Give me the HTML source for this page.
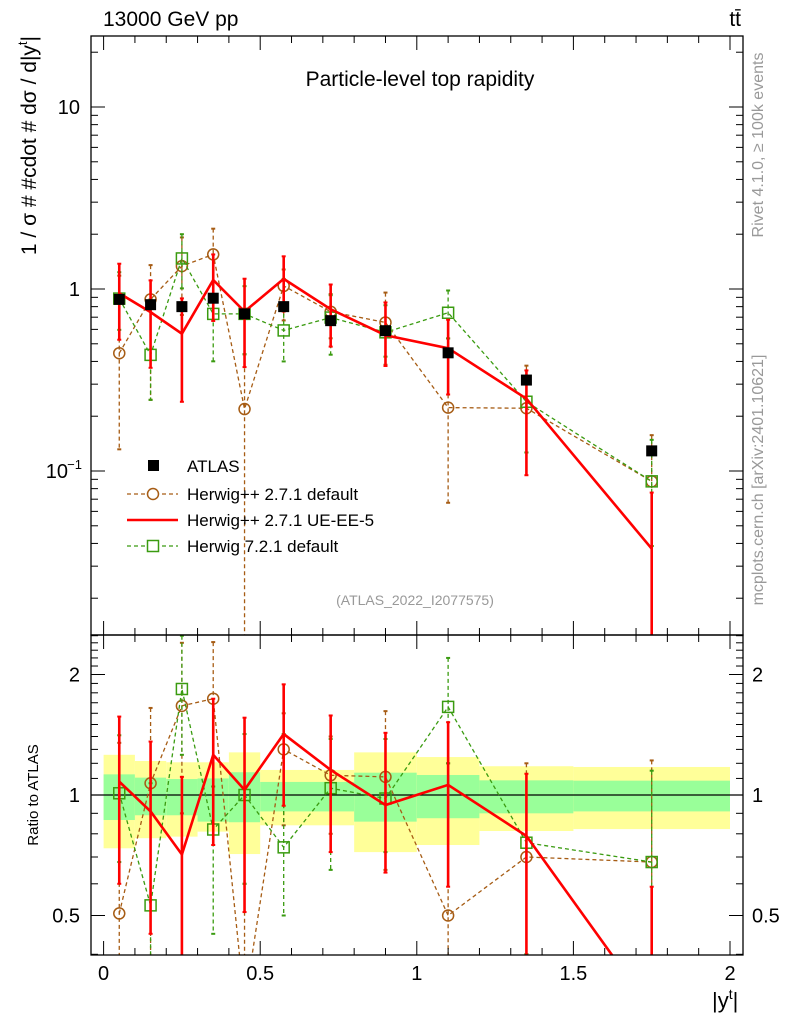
<!DOCTYPE html>
<html><head><meta charset="utf-8"><style>
html,body{margin:0;padding:0;background:#fff;overflow:hidden;width:786px;height:1024px}
svg{display:block;font-family:"Liberation Sans",sans-serif}
</style></head><body>
<svg id="c" width="786" height="1024" xmlns="http://www.w3.org/2000/svg"></svg>
<script>
const xs=[0.05,0.15,0.25,0.35,0.45,0.575,0.725,0.9,1.1,1.35,1.75];
const atlas=[0.877,0.82,0.80,0.89,0.73,0.80,0.67,0.59,0.446,0.316,0.129];
const rH2=[0.506,1.07,1.67,1.74,0.30,1.30,1.12,1.11,0.50,0.70,0.68];
const rH2Up=[1.35,1.65,2.4,2.41,0.6,1.6,1.4,1.62,1.2,1.2,1.22];
const rH2Dn=[0.15,0.3,0.9,1.0,0.01,0.84,0.8,0.65,0.15,0.4,0.3];
const rUE=[1.08,0.91,0.71,1.26,1.03,1.42,1.155,0.944,1.06,0.79,0.29];
const rUEUp=[1.57,1.36,1.11,1.74,1.56,1.89,1.58,1.43,1.52,1.13,0.59];
const rUEDn=[0.6,0.45,0.3,0.75,0.51,0.94,0.72,0.64,0.59,0.3,0.05];
const rH7=[1.01,0.53,1.84,0.82,1.0,0.74,1.04,0.98,1.66,0.76,0.68];
const rH7Up=[1.41,1.07,2.5,1.05,1.42,1.42,1.38,1.38,2.2,1.0,1.15];
const rH7Dn=[0.68,0.3,1.26,0.45,0.6,0.5,0.65,0.72,1.2,0.4,0.3];
const binEdges=[0,0.1,0.2,0.3,0.4,0.5,0.8,1.0,1.2,1.5,2.0];
const yelTop=[1.26,1.216,1.207,1.207,1.278,1.155,1.278,1.244,1.18,1.175];
const yelBot=[0.736,0.78,0.787,0.81,0.712,0.84,0.72,0.75,0.813,0.822];
const grnTop=[1.126,1.105,1.096,1.10,1.14,1.078,1.137,1.122,1.088,1.086];
const grnBot=[0.866,0.89,0.89,0.858,0.855,0.91,0.858,0.875,0.90,0.91];

const NS="http://www.w3.org/2000/svg";
const svg=document.getElementById('c');
const X=v=>103.6+v*313.2;
const YM=v=>289-Math.log10(v)*182;
const YR=v=>795-Math.log2(v)*120.5;
const L=91,R=743,T1=36,B1=635,B2=955;
function mk(tag,attrs,parent){const e=document.createElementNS(NS,tag);for(const k in attrs)e.setAttribute(k,attrs[k]);(parent||svg).appendChild(e);return e;}
function txt(s,attrs,parent){const e=mk('text',attrs,parent);e.textContent=s;return e;}
const defs=mk('defs',{});
const cp1=mk('clipPath',{id:'cm'},defs);mk('rect',{x:L,y:T1,width:R-L,height:B1-T1},cp1);
const cp2=mk('clipPath',{id:'cr'},defs);mk('rect',{x:L,y:B1,width:R-L,height:B2-B1},cp2);
const gm=mk('g',{'clip-path':'url(#cm)'});


const gr=mk('g',{'clip-path':'url(#cr)'});



for(let i=0;i<binEdges.length-1;i++){
  const x0=X(binEdges[i]),x1=X(binEdges[i+1]);
  const y=mk('rect',{x:x0,y:YR(yelTop[i]),width:x1-x0,height:YR(yelBot[i])-YR(yelTop[i]),fill:'#ffff99'},gr);
  
  
  const g=mk('rect',{x:x0,y:YR(grnTop[i]),width:x1-x0,height:YR(grnBot[i])-YR(grnTop[i]),fill:'#99ff99'},gr);
  
  
}
mk('line',{x1:L,x2:R,y1:YR(1),y2:YR(1),stroke:'#000','stroke-width':1.3},gr);

const series=[
 {name:'herwigpp-default',r:rH2,up:rH2Up,dn:rH2Dn,col:'#a65c14',dash:'4,3',w:1.3,m:'circle'},
 {name:'herwig7-default',r:rH7,up:rH7Up,dn:rH7Dn,col:'#3a9b10',dash:'4,3',w:1.3,m:'square'},
 {name:'herwigpp-ue-ee-5',r:rUE,up:rUEUp,dn:rUEDn,col:'#ff0000',dash:'',w:2.6,m:'none'}
];
function drawSeries(s,g,Y,ratio){
  const vals=s.r.map((r,i)=>ratio?r:r*atlas[i]);
  const up=s.up.map((r,i)=>ratio?r:r*atlas[i]);
  const dn=s.dn.map((r,i)=>ratio?r:r*atlas[i]);
  for(let i=0;i<xs.length;i++){
    const x=X(xs[i]);const eb=mk('line',{x1:x,x2:x,y1:Y(up[i]),y2:Y(Math.max(dn[i],1e-4)),stroke:s.col,'stroke-width':s.m==='none'?2.6:1.3,'stroke-dasharray':s.dash},g);
    
    
    for(const yv of [up[i],dn[i]]){mk('line',{x1:x-2,x2:x+2,y1:Y(Math.max(yv,1e-4)),y2:Y(Math.max(yv,1e-4)),stroke:s.col,'stroke-width':2},g);}
  }
  const pl=mk('polyline',{points:xs.map((x,i)=>X(x)+','+Y(vals[i])).join(' '),fill:'none',stroke:s.col,'stroke-width':s.w,'stroke-dasharray':s.dash},g);
  
  
  for(let i=0;i<xs.length;i++){
    const x=X(xs[i]),y=Y(vals[i]);let e;
    if(s.m==='circle')e=mk('circle',{cx:x,cy:y,r:5.5,fill:'none',stroke:s.col,'stroke-width':1.5},g);
    else if(s.m==='square')e=mk('rect',{x:x-5.5,y:y-5.5,width:11,height:11,fill:'none',stroke:s.col,'stroke-width':1.5},g);
    else continue;
    
    
  }
}
series.forEach(s=>drawSeries(s,gm,YM,false));
series.forEach(s=>drawSeries(s,gr,YR,true));
for(let i=0;i<xs.length;i++){
  const p=mk('rect',{x:X(xs[i])-5.5,y:YM(atlas[i])-5.5,width:11,height:11,fill:'#000'},gm);
  
  
}

const f1=mk('rect',{x:L,y:T1,width:R-L,height:B1-T1,fill:'none',stroke:'#000','stroke-width':1.3});

const f2=mk('rect',{x:L,y:B1,width:R-L,height:B2-B1,fill:'none',stroke:'#000','stroke-width':1.3});


for(let k=0;k<=20;k++){const v=k/10,x=X(v),len=(k%5===0)?14:7;
  for(const [yt,yb] of [[T1,B1],[B1,B2]]){mk('line',{x1:x,x2:x,y1:yt,y2:yt+len,stroke:'#000'});mk('line',{x1:x,x2:x,y1:yb,y2:yb-len,stroke:'#000'});}
}
const xl=['0','0.5','1','1.5','2'];
xl.forEach((t,i)=>{const e=txt(t,{x:X(i*0.5),y:980,'font-size':20,'text-anchor':'middle'});});
const xt=txt('|y',{x:712,y:1008,'font-size':22});
const xts=mk('tspan',{'font-size':14,dy:-9},xt);xts.textContent='t';const xtc=mk('tspan',{dy:9},xt);xtc.textContent='|';

for(let d=-2;d<=1;d++){for(let m=1;m<=9;m++){const v=m*Math.pow(10,d),y=YM(v);if(y<T1||y>B1)continue;const len=m===1?14:7;
  mk('line',{x1:L,x2:L+len,y1:y,y2:y,stroke:'#000'});mk('line',{x1:R,x2:R-len,y1:y,y2:y,stroke:'#000'});}}
[[10,'10'],[1,'1']].forEach(([v,t])=>{const e=txt(t,{x:80,y:YM(v)+7,'font-size':20,'text-anchor':'end'});});
const t01=txt('10',{x:68,y:YM(0.1)+7,'font-size':20,'text-anchor':'end'});
txt('−1',{x:82,y:YM(0.1)-2,'font-size':13,'text-anchor':'end'});

const rmaj=[0.5,1,2];
[0.4,0.5,0.6,0.7,0.8,0.9,1,1.1,1.2,1.3,1.4,1.5,1.6,1.7,1.8,1.9,2,2.1,2.2,2.3,2.4,2.5].forEach(v=>{const y=YR(v);if(y<B1||y>B2)return;const len=rmaj.includes(v)?14:7;
  mk('line',{x1:L,x2:L+len,y1:y,y2:y,stroke:'#000'});mk('line',{x1:R,x2:R-len,y1:y,y2:y,stroke:'#000'});});
[[2,'2'],[1,'1'],[0.5,'0.5']].forEach(([v,t])=>{
  const a=txt(t,{x:80,y:YR(v)+7,'font-size':20,'text-anchor':'end'});
  const b=txt(t,{x:752,y:YR(v)+7,'font-size':20});});

const e1=txt('13000 GeV pp',{x:103,y:26,'font-size':21});
const e2=txt('tt̄',{x:741,y:26,'font-size':21,'text-anchor':'end'});
const e3=txt('Particle-level top rapidity',{x:420,y:86,'font-size':21,'text-anchor':'middle'});
const e4=mk('text',{x:0,y:0,'font-size':21,'text-anchor':'end',transform:'translate(36,36) rotate(-90)'});

const s1=mk('tspan',{},e4);s1.textContent='1 / σ # #cdot # dσ / d|y';
const s2=mk('tspan',{'font-size':13,dy:-9},e4);s2.textContent='t';
const s3=mk('tspan',{dy:9},e4);s3.textContent='|';
const e5=txt('Ratio to ATLAS',{x:0,y:0,'font-size':15,'text-anchor':'middle',transform:'translate(38,795) rotate(-90)'});
const e6=txt('Rivet 4.1.0, ≥ 100k events',{x:0,y:0,'font-size':16,fill:'#999','text-anchor':'middle',transform:'translate(763,145) rotate(-90)'});
const e7=txt('mcplots.cern.ch [arXiv:2401.10621]',{x:0,y:0,'font-size':16,fill:'#999','text-anchor':'middle',transform:'translate(763,480) rotate(-90)'});
const e8=txt('(ATLAS_2022_I2077575)',{x:415,y:605,'font-size':14,fill:'#999','text-anchor':'middle'});

const lg=mk('g',{});
const ly=[466,494,520,546];
mk('rect',{x:148,y:ly[0]-6,width:11,height:11,fill:'#000'},lg);
mk('line',{x1:127,x2:178,y1:ly[1],y2:ly[1],stroke:'#a65c14','stroke-width':1.3,'stroke-dasharray':'4,3'},lg);
mk('circle',{cx:153,cy:ly[1],r:5.5,fill:'#fff',stroke:'#a65c14','stroke-width':1.5},lg);
mk('line',{x1:127,x2:178,y1:ly[2],y2:ly[2],stroke:'#ff0000','stroke-width':2.6},lg);
mk('line',{x1:127,x2:178,y1:ly[3],y2:ly[3],stroke:'#3a9b10','stroke-width':1.3,'stroke-dasharray':'4,3'},lg);
mk('rect',{x:147.5,y:ly[3]-5.5,width:11,height:11,fill:'#fff',stroke:'#3a9b10','stroke-width':1.5},lg);
['ATLAS','Herwig++ 2.7.1 default','Herwig++ 2.7.1 UE-EE-5','Herwig 7.2.1 default'].forEach((t,i)=>{const e=txt(t,{x:187,y:ly[i]+6,'font-size':17},lg);});
</script>
</body></html>
